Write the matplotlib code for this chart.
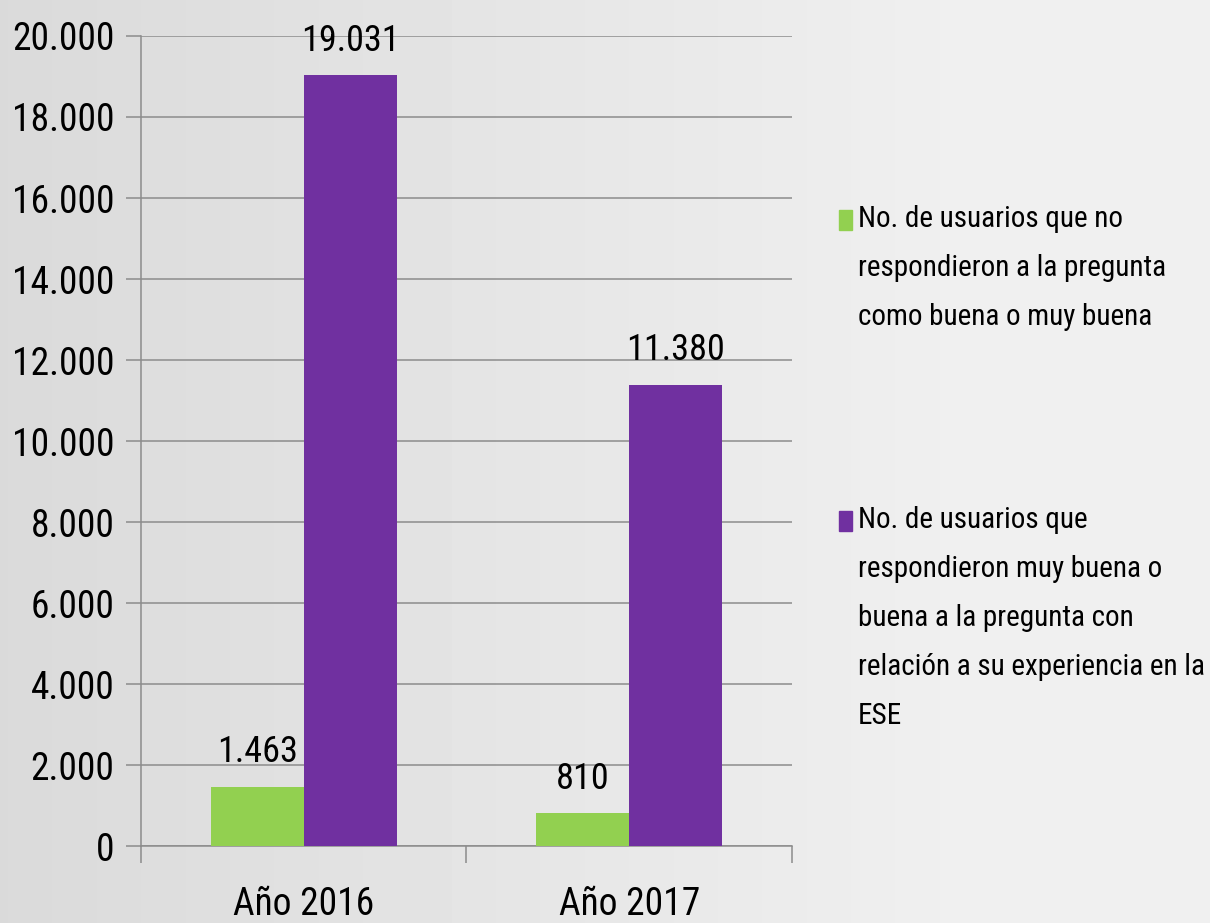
import matplotlib
matplotlib.use('Agg')
import matplotlib.pyplot as plt
from matplotlib.patches import Rectangle
import numpy as np

# datos
categorias = ['Año 2016', 'Año 2017']
no_respondieron = [1463, 810]
respondieron = [19031, 11380]
etiquetas_leyenda = [
    'No. de usuarios que no\nrespondieron a la pregunta\ncomo buena o muy buena',
    'No. de usuarios que\nrespondieron muy buena o\nbuena a la pregunta con\nrelación a su experiencia en la\nESE',
]
yticks = [0, 2000, 4000, 6000, 8000, 10000, 12000, 14000, 16000, 18000, 20000]

verde = '#92d050'
morado = '#7030a0'
gris = '#8c8c8c'
fuente = ['Roboto Condensed', 'Liberation Sans', 'DejaVu Sans']

def miles(v):
    return f'{v:,.0f}'.replace(',', '.')

fig = plt.figure(figsize=(12.1, 9.23), dpi=100)

# fondo degradado
bg = fig.add_axes([0, 0, 1, 1], zorder=-10)
xx = np.linspace(0, 1, 300)
tono = 0.855 + 0.085 * np.clip(xx / 0.8, 0, 1)
bg.imshow(np.tile(tono, (10, 1)), cmap='gray', vmin=0, vmax=1, aspect='auto',
          extent=[0, 1, 0, 1])
bg.axis('off')

ax = fig.add_axes([0.1165, 0.0834, 0.538, 0.8776])
ax.set_facecolor('none')

x = np.arange(len(categorias))
ancho = 0.286
b1 = ax.bar(x - ancho / 2, no_respondieron, ancho, color=verde, zorder=3)
b2 = ax.bar(x + ancho / 2, respondieron, ancho, color=morado, zorder=3)

for barras in (b1, b2):
    for b in barras:
        ax.annotate(miles(b.get_height()), (b.get_x() + b.get_width() / 2, b.get_height()),
                    xytext=(0, 12), textcoords='offset points', ha='center', va='bottom',
                    fontsize=26, family=fuente)

ax.set_xlim(-0.5, 1.5)
ax.set_ylim(0, 20000)
ax.set_yticks(yticks)
ax.set_yticklabels([miles(v) for v in yticks], family=fuente, fontsize=27)
ax.set_xticks(x)
ax.set_xticklabels(categorias, family=fuente, fontsize=27)
ax.set_xticks([-0.5, 0.5, 1.5], minor=True)
ax.tick_params(axis='x', which='major', length=0, pad=29)
ax.tick_params(axis='x', which='minor', length=12, width=1.1, color=gris)
ax.tick_params(axis='y', length=11, width=1.1, color=gris, pad=8)
ax.grid(axis='y', color=gris, linewidth=1.1, zorder=0)
for s in ('top', 'right'):
    ax.spines[s].set_visible(False)
for s in ('left', 'bottom'):
    ax.spines[s].set_color(gris)
    ax.spines[s].set_linewidth(1.1)

# leyenda
W, H = 1210, 923
for color, texto, y0 in zip([verde, morado], etiquetas_leyenda, [205, 506]):
    fig.add_artist(Rectangle((839 / W, 1 - (y0 + 25) / H), 13 / W, 20 / H,
                             transform=fig.transFigure, color=color))
    fig.text(858 / W, 1 - y0 / H, texto, ha='left', va='top', fontsize=21,
             family=fuente, linespacing=1.95)

fig.savefig('out.png', dpi=100)
